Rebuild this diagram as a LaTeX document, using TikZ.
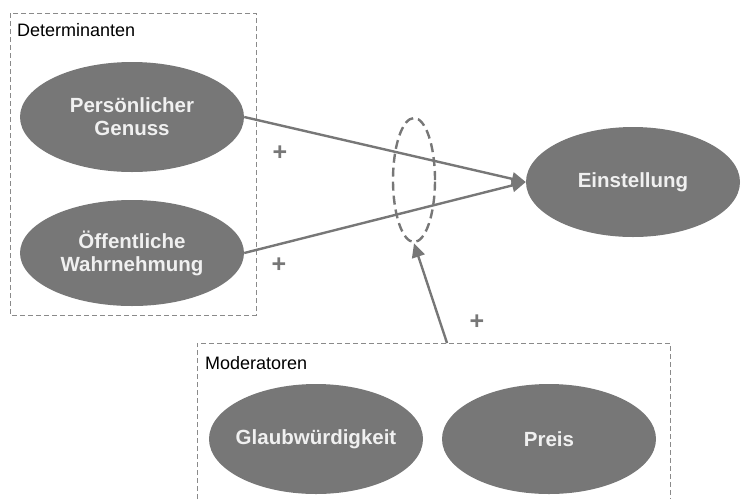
\documentclass[tikz,border=0pt]{standalone}
\usepackage{fontspec}
\setmainfont{Liberation Sans}
\usetikzlibrary{shapes.geometric, arrows.meta}
\definecolor{konstrukt}{HTML}{777777}
\definecolor{rahmen}{HTML}{8A8A8A}

\tikzset{
  konstr/.style={ellipse, fill=konstrukt, draw=none, inner sep=0pt,
    minimum width=214pt, minimum height=110pt, align=center,
    text=white!94!black, font=\bfseries\fontsize{20.5}{23}\selectfont},
  gruppe/.style={draw=rahmen, line width=1pt, dash pattern=on 5pt off 3pt},
  gruppenname/.style={anchor=base west, inner sep=0pt, font=\fontsize{18}{21}\selectfont},
  pfeil/.style={draw=konstrukt, line width=2.4pt,
    -{Triangle[length=14pt,width=13pt]}},
  plus/.style={text=konstrukt, font=\bfseries\fontsize{25}{25}\selectfont, inner sep=0pt}
}

\begin{document}
\begin{tikzpicture}[x=1pt, y=-1pt]
  \useasboundingbox (0,0) rectangle (741,499);
  % gruppen
  \draw[gruppe] (10,13) rectangle (256,315);
  \node[gruppenname] (det) at (17,36) {Determinanten};
  \draw[gruppe] (197,499) |- (670,343) -- (670,499);
  \node[gruppenname] (modt) at (205,369) {Moderatoren};
  \coordinate (modtop) at (447,343);
  % konstrukte
  \node[konstr, minimum width=224pt] (genuss) at (132,117) {Persönlicher\\Genuss};
  \node[konstr, minimum width=224pt, minimum height=106pt] (wahrn) at (132,253) {Öffentliche\\Wahrnehmung};
  \node[konstr] (einst) at (633,182) {Einstellung};
  \node[konstr, inner xsep=-9pt] (glaub) at (316,439) {Glaubwürdigkeit};
  \node[konstr] (preis) at (549,439) {Preis};
  % moderation
  \node[ellipse, draw=konstrukt, line width=2.4pt, dash pattern=on 9pt off 5pt,
    minimum width=42pt, minimum height=124pt, inner sep=0pt] (mod) at (414,180) {};
  \draw[pfeil] (genuss.east) -- (einst.west);
  \draw[pfeil] (wahrn.east) -- (einst.west);
  \draw[pfeil] (modtop) -- (mod.south);
  \node[plus] (p1) at (280,153) {+};
  \node[plus] (p2) at (279,265) {+};
  \node[plus] (p3) at (477,322) {+};
\end{tikzpicture}
\end{document}
